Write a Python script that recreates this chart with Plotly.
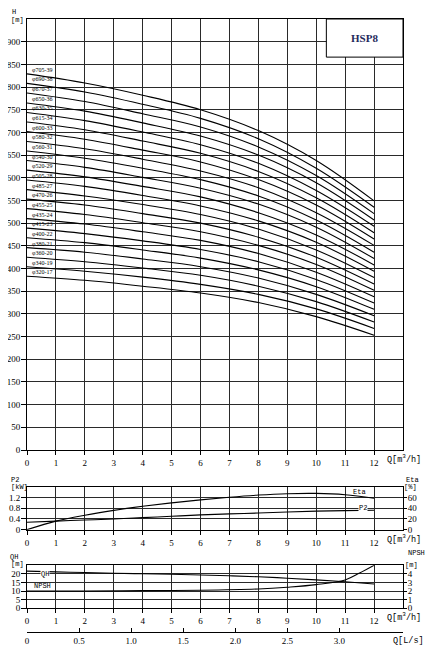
import plotly.graph_objects as go

# the page body has an 8 px margin, so the figure is drawn a bit smaller
OFF = 8
W, H = 435 - OFF, 656 - OFF

# flow points used for the head curves [m3/h]
q_pts = [0, 2, 4, 6, 8, 10, 12]

curve_labels = [
    "φ705-39", "φ690-38", "φ670-37", "φ650-36", "φ630-35", "φ615-34",
    "φ600-33", "φ580-32", "φ560-31", "φ540-30", "φ520-29", "φ505-28",
    "φ485-27", "φ470-26", "φ455-25", "φ435-24", "φ415-23", "φ400-22",
    "φ380-21", "φ360-20", "φ340-19", "φ320-17",
]

# head [m] of each curve at q_pts
head_curves = [
    [829, 809, 782, 750, 704, 638, 549],
    [808, 789, 762, 731, 686, 621, 535],
    [787, 768, 741, 712, 668, 605, 521],
    [765, 747, 721, 692, 650, 589, 507],
    [744, 726, 701, 673, 632, 572, 493],
    [723, 706, 681, 654, 614, 556, 479],
    [702, 685, 661, 635, 596, 540, 465],
    [680, 664, 641, 615, 578, 523, 451],
    [659, 643, 621, 596, 560, 507, 436],
    [638, 623, 601, 577, 542, 491, 422],
    [617, 602, 581, 558, 523, 474, 408],
    [595, 581, 561, 538, 505, 458, 394],
    [574, 560, 541, 519, 487, 441, 380],
    [553, 540, 521, 500, 469, 425, 366],
    [532, 519, 501, 481, 451, 409, 352],
    [510, 498, 481, 462, 433, 392, 338],
    [489, 477, 461, 442, 415, 376, 324],
    [468, 457, 441, 423, 397, 360, 310],
    [446, 436, 421, 404, 379, 343, 296],
    [425, 415, 401, 385, 361, 327, 282],
    [404, 394, 381, 365, 343, 311, 268],
    [383, 374, 361, 346, 325, 294, 253],
]

q_full = [0, 1, 2, 3, 4, 5, 6, 7, 8, 9, 10, 11, 12]
p2_kw = [0.28, 0.32, 0.36, 0.40, 0.45, 0.50, 0.55, 0.59, 0.62, 0.66, 0.69, 0.71, 0.725]
eta_pct = [0, 16, 27, 36, 43.5, 50, 55.5, 60.5, 64.5, 67, 67.5, 65, 58.5]
qh_stage = [21.6, 21.2, 20.8, 20.4, 20.1, 19.8, 19.4, 18.9, 18.3, 17.5, 16.5, 15.4, 14.1]
npsh_q = [0, 2, 4, 6, 8, 9, 10, 11, 11.5, 12]
npsh_m = [2.0, 2.0, 2.05, 2.1, 2.25, 2.45, 2.75, 3.3, 4.1, 5.0]

q_ticks = list(range(13))
h_ticks = list(range(0, 901, 50))
p2_ticks = [0, 0.4, 0.8, 1.2]
p2_text = ["0", "0.4", "0.8", "1.2"]
eta_ticks = [0, 20, 40, 60]
qh_ticks = [0, 5, 10, 15, 20]
npsh_ticks = [0, 1, 2, 3, 4]
ls_ticks = [0, 0.5, 1.0, 1.5, 2.0, 2.5, 3.0]
ls_text = ["0", "0.5", "1.0", "1.5", "2.0", "2.5", "3.0"]


def px(x):
    return (x - OFF) / W


def py(y):
    return 1 - (y - OFF) / H


SERIF = "Liberation Serif"
MONO = "Liberation Mono"
GRID = "#2a2a2a"
XDOM = [px(27), px(403)]
TICKFONT = dict(family=SERIF, size=9, color="black")

fig = go.Figure()

# multistage head curves
for lab, hs in zip(curve_labels, head_curves):
    fig.add_trace(go.Scatter(
        x=q_pts, y=hs, mode="lines", line=dict(color="black", width=1.1, shape="spline"),
        xaxis="x", yaxis="y", showlegend=False, hoverinfo="skip"
    ))

# P2 / Eta
fig.add_trace(go.Scatter(x=q_full, y=p2_kw, mode="lines",
                         line=dict(color="black", width=1.1, shape="spline"),
                         xaxis="x2", yaxis="y2", showlegend=False))
fig.add_trace(go.Scatter(x=q_full, y=eta_pct, mode="lines",
                         line=dict(color="black", width=1.1, shape="spline"),
                         xaxis="x2", yaxis="y4", showlegend=False))

# QH per stage / NPSH
fig.add_trace(go.Scatter(x=q_full, y=qh_stage, mode="lines",
                         line=dict(color="black", width=1.1, shape="spline"),
                         xaxis="x3", yaxis="y3", showlegend=False))
fig.add_trace(go.Scatter(x=npsh_q, y=npsh_m, mode="lines",
                         line=dict(color="black", width=1.1, shape="spline"),
                         xaxis="x3", yaxis="y5", showlegend=False))

# carrier for the L/s scale
fig.add_trace(go.Scatter(x=[0], y=[0], mode="markers", marker=dict(opacity=0),
                         xaxis="x4", yaxis="y3", showlegend=False, hoverinfo="skip"))

xcommon = dict(
    domain=XDOM, range=[0, 13], tickvals=q_ticks, showgrid=True, gridcolor=GRID,
    gridwidth=1, zeroline=False, showline=True, linecolor="black", linewidth=1,
    mirror=True, ticks="outside", ticklen=4, tickcolor="black", automargin=False,
    tickfont=TICKFONT,
)
ycommon = dict(
    showgrid=True, gridcolor=GRID, gridwidth=1, zeroline=False, showline=True,
    linecolor="black", linewidth=1, mirror=True, ticks="outside", ticklen=5,
    tickcolor="black", automargin=False, ticklabelstandoff=-1, tickfont=TICKFONT,
)
yright = dict(
    side="right", showgrid=False, zeroline=False, showline=False, ticks="outside",
    ticklen=3, tickcolor="black", automargin=False, ticklabelstandoff=-1,
    tickfont=TICKFONT,
)

annotations = []
for lab, hs in zip(curve_labels, head_curves):
    annotations.append(dict(
        x=0.12, y=hs[0], xref="x", yref="y", text=lab, showarrow=False,
        xanchor="left", yanchor="bottom", yshift=-1,
        font=dict(family=SERIF, size=6, color="black")
    ))

small = dict(family=MONO, size=7, color="black")
qlab = dict(family=MONO, size=8.5, color="black")


def note(text, x, y, font=small, xanchor="center"):
    return dict(x=px(x), y=py(y), xref="paper", yref="paper", text=text,
                showarrow=False, xanchor=xanchor, yanchor="middle", font=font)


annotations += [
    note("H", 14, 12), note("[m]", 9, 19.5, xanchor="left"),
    note("Q[m<sup>3</sup>/h]", 385, 459, qlab, "left"),
    note("Q[m<sup>3</sup>/h]", 385, 539, qlab, "left"),
    note("Q[m<sup>3</sup>/h]", 385, 617, qlab, "left"),
    note("Q[L/s]", 391, 641, qlab, "left"),
    note("P2", 15, 480), note("[kW]", 9, 487, xanchor="left"),
    note("Eta", 412, 480), note("[%]", 410, 487),
    note("QH", 14, 557), note("[m]", 9, 564, xanchor="left"),
    note("NPSH", 416, 553), note("[m]", 411, 565),
    dict(x=11.5, y=70, xref="x2", yref="y4", text="Eta", showarrow=False,
         font=small),
    dict(x=11.6, y=0.8, xref="x2", yref="y2", text="P2", showarrow=False,
         font=small, bgcolor="white", borderpad=0),
    dict(x=0.62, y=20, xref="x3", yref="y3", text="QH", showarrow=False,
         font=small, bgcolor="white", borderpad=0),
    dict(x=0.55, y=12.8, xref="x3", yref="y3", text="NPSH", showarrow=False,
         font=small),
    dict(x=11.67, y=908, xref="x", yref="y", text="<b>HSP8</b>", showarrow=False,
         font=dict(family=SERIF, size=11, color="#1f2a5c")),
]

fig.update_layout(
    width=W, height=H, margin=dict(l=0, r=0, t=0, b=0, autoexpand=False),
    paper_bgcolor="white", plot_bgcolor="white", showlegend=False,
    xaxis=dict(xcommon, anchor="y"),
    yaxis=dict(ycommon, domain=[py(450), py(19)], range=[0, 950], tickvals=h_ticks,
               anchor="x"),
    xaxis2=dict(xcommon, anchor="y2"),
    yaxis2=dict(ycommon, domain=[py(529.7), py(486.7)], range=[0, 1.6],
                tickvals=p2_ticks, ticktext=p2_text, anchor="x2"),
    yaxis4=dict(yright, overlaying="y2", range=[0, 80], tickvals=eta_ticks, anchor="x2"),
    xaxis3=dict(xcommon, anchor="y3"),
    yaxis3=dict(ycommon, domain=[py(608.3), py(565.3)], range=[0, 25],
                tickvals=qh_ticks, anchor="x3"),
    yaxis5=dict(yright, overlaying="y3", range=[0, 5], tickvals=npsh_ticks, anchor="x3"),
    xaxis4=dict(domain=XDOM, overlaying="x3", anchor="free", position=py(632.3),
                side="bottom", range=[0, 13 / 3.6], tickvals=ls_ticks, ticktext=ls_text,
                showgrid=False, zeroline=False, showline=True, linecolor="black",
                ticks="inside", ticklen=4, tickcolor="black", automargin=False,
                tickfont=TICKFONT),
    annotations=annotations,
    shapes=[dict(type="rect", xref="x", yref="y", x0=10.35, x1=13, y0=866, y1=950,
                 fillcolor="white", line=dict(color="black", width=1), layer="above")],
)

fig.write_html("out.html")
